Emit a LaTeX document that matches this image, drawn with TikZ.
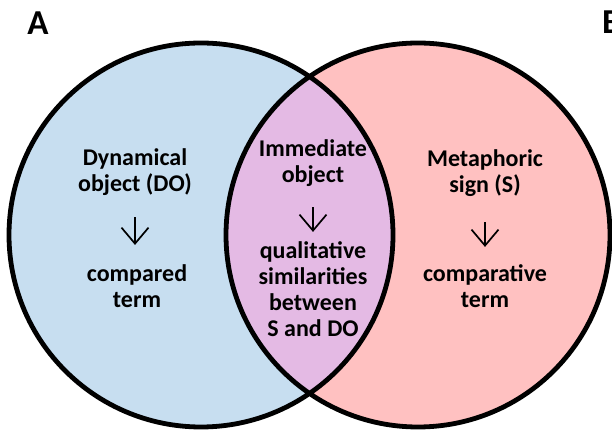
\documentclass[tikz,border=0pt]{standalone}
\usepackage{fontspec}
\setmainfont{Carlito}
\usetikzlibrary{arrows.meta}

\definecolor{doblue}{RGB}{199,222,240}
\definecolor{signpink}{RGB}{255,193,193}
\definecolor{immpurple}{RGB}{228,186,228}

\begin{document}
\begin{tikzpicture}[x=1pt,y=1pt,
	term/.style={align=center,inner sep=0pt,anchor=base,font=\fontsize{24}{26}\selectfont\bfseries},
	panel/.style={inner sep=0pt,anchor=base,font=\fontsize{35}{35}\selectfont\bfseries},
	down/.style={-{Straight Barb[length=16pt,width=27pt]},line width=1.7pt}]
	\useasboundingbox (0,0) rectangle (612,430);
	
	\coordinate (cA) at (201,195);
	\coordinate (cB) at (418,195);
	
	\fill[doblue] (cA) circle (192pt);
	\fill[signpink] (cB) circle (192pt);
	\begin{scope}
		\clip (cA) circle (192pt);
		\fill[immpurple] (cB) circle (192pt);
	\end{scope}
	\draw[line width=4.8pt] (cA) circle (192pt) (cB) circle (192pt);
	
	\node[panel] (A) at (38,395) {A};
	\node[panel,anchor=base west] (B) at (602,396) {B};
	
	\node[term] (do) at (135,238) {Dynamical\\object (DO)};
	\node[term] (ct) at (137,122) {compared\\term};
	\node[term] (im) at (313,247) {Immediate\\object};
	\node[term] (qs) at (313,93) {qualitative\\similarities\\between\\S and DO};
	\node[term] (ms) at (485,237) {Metaphoric\\sign (S)};
	\node[term] (cv) at (485,122) {comparative\\term};
	
	\foreach \a/\b/\s/\e in {do/ct/21/20, im/qs/20/10, ms/cv/25/18}
	{
		\draw[down,shorten <=\s pt,shorten >=\e pt] (\a.south) -- (\a.south |- \b.north);
	}
\end{tikzpicture}
\end{document}
